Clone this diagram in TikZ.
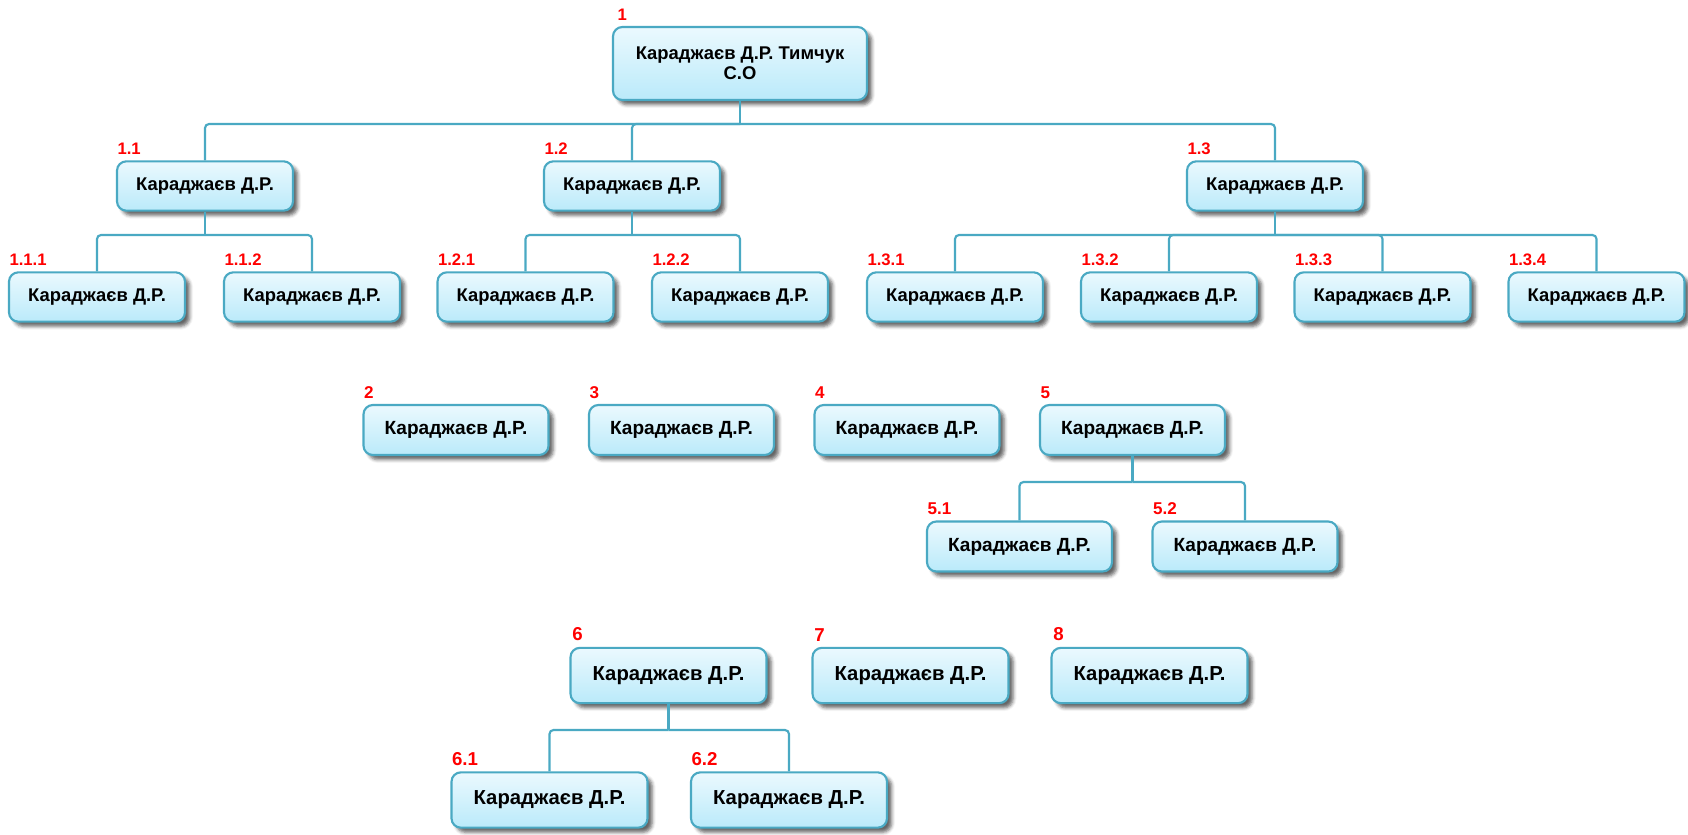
\documentclass[tikz,border=0pt]{standalone}
\usepackage{fontspec}
\setmainfont{Liberation Sans}
\usetikzlibrary{shadows.blur}
\definecolor{bord}{HTML}{4AA9C3}
\definecolor{ftop}{HTML}{EBF9FE}
\definecolor{fbot}{HTML}{BAEAFA}
\definecolor{labred}{HTML}{FF0000}
\tikzset{
  box/.style={draw=bord, line width=1.6pt, rounded corners=7pt, top color=ftop, bottom color=fbot,
    inner sep=0pt, align=center, text=black,
    blur shadow={shadow xshift=3.5pt, shadow yshift=-3.5pt, shadow blur radius=2.5pt, shadow opacity=60}},
  bxA/.style={box, minimum width=132pt, minimum height=37pt, font=\bfseries\fontsize{13.8}{16}\selectfont},
  bxB/.style={box, minimum width=138.75pt, minimum height=37.5pt, font=\bfseries\fontsize{14.3}{16}\selectfont},
  bxC/.style={box, minimum width=147pt, minimum height=41.5pt, font=\bfseries\fontsize{15.2}{17}\selectfont},
  bxR/.style={box, minimum width=190.5pt, minimum height=54.75pt, font=\bfseries\fontsize{13.8}{15.2}\selectfont},
  lab/.style={text=labred, inner sep=0pt, anchor=south west},
  labA/.style={lab, font=\bfseries\fontsize{12.5}{14}\selectfont},
  labB/.style={lab, font=\bfseries\fontsize{12.8}{14}\selectfont},
  labC/.style={lab, font=\bfseries\fontsize{14}{15}\selectfont},
  conn/.style={draw=bord, line width=1.6pt, rounded corners=3pt},
  stem/.style={draw=bord, line width=1.6pt},
}
\newcommand{\nm}{Караджаєв Д.Р.}
\begin{document}
\begin{tikzpicture}[x=0.75pt, y=-0.75pt]
\useasboundingbox (0,0) rectangle (1688,835);
% bars
\coordinate (bR) at (0,124);
\coordinate (bL1) at (0,235);
\coordinate (b5) at (0,482);
\coordinate (b6) at (0,730);
% nodes
\node[bxR] (n1) at (740,63.5) {Караджаєв Д.Р. Тимчук\\С.О};
\node[bxA] (n11) at (205,186) {\nm};
\node[bxA] (n12) at (632,186) {\nm};
\node[bxA] (n13) at (1275,186) {\nm};
\node[bxA] (n111) at (97,297) {\nm};
\node[bxA] (n112) at (312,297) {\nm};
\node[bxA] (n121) at (525.5,297) {\nm};
\node[bxA] (n122) at (740,297) {\nm};
\node[bxA] (n131) at (955,297) {\nm};
\node[bxA] (n132) at (1169,297) {\nm};
\node[bxA] (n133) at (1382.5,297) {\nm};
\node[bxA] (n134) at (1596.5,297) {\nm};
\node[bxB] (n2) at (456,430) {\nm};
\node[bxB] (n3) at (681.5,430) {\nm};
\node[bxB] (n4) at (907,430) {\nm};
\node[bxB] (n5) at (1132.5,430) {\nm};
\node[bxB] (n51) at (1019.5,546.5) {\nm};
\node[bxB] (n52) at (1245,546.5) {\nm};
\node[bxC] (n6) at (668.5,675.5) {\nm};
\node[bxC] (n7) at (910.5,675.5) {\nm};
\node[bxC] (n8) at (1149.5,675.5) {\nm};
\node[bxC] (n61) at (549.5,800) {\nm};
\node[bxC] (n62) at (789,800) {\nm};
% connectors
\draw[stem] (n1.south) -- (n1.south |- bR);
\foreach \c in {n11,n12,n13}
  \draw[conn] (n1.south |- bR) -| (\c.north);
\draw[stem] (n11.south) -- (n11.south |- bL1);
\foreach \c in {n111,n112}
  \draw[conn] (n11.south |- bL1) -| (\c.north);
\draw[stem] (n12.south) -- (n12.south |- bL1);
\foreach \c in {n121,n122}
  \draw[conn] (n12.south |- bL1) -| (\c.north);
\draw[stem] (n13.south) -- (n13.south |- bL1);
\foreach \c in {n131,n132,n133,n134}
  \draw[conn] (n13.south |- bL1) -| (\c.north);
\draw[stem] (n5.south) -- (n5.south |- b5);
\foreach \c in {n51,n52}
  \draw[conn] (n5.south |- b5) -| (\c.north);
\draw[stem] (n6.south) -- (n6.south |- b6);
\foreach \c in {n61,n62}
  \draw[conn] (n6.south |- b6) -| (\c.north);
% labels
\node[labA] (l1) at ([xshift=4pt,yshift=3.5pt]n1.north west) {1};
\node[labA] (l11) at ([xshift=1pt,yshift=4pt]n11.north west) {1.1};
\node[labA] (l12) at ([xshift=1pt,yshift=4pt]n12.north west) {1.2};
\node[labA] (l13) at ([xshift=1pt,yshift=4pt]n13.north west) {1.3};
\node[labA] (l111) at ([xshift=1pt,yshift=4pt]n111.north west) {1.1.1};
\node[labA] (l112) at ([xshift=1pt,yshift=4pt]n112.north west) {1.1.2};
\node[labA] (l121) at ([xshift=1pt,yshift=4pt]n121.north west) {1.2.1};
\node[labA] (l122) at ([xshift=1pt,yshift=4pt]n122.north west) {1.2.2};
\node[labA] (l131) at ([xshift=1pt,yshift=4pt]n131.north west) {1.3.1};
\node[labA] (l132) at ([xshift=1pt,yshift=4pt]n132.north west) {1.3.2};
\node[labA] (l133) at ([xshift=1pt,yshift=4pt]n133.north west) {1.3.3};
\node[labA] (l134) at ([xshift=1pt,yshift=4pt]n134.north west) {1.3.4};
\node[labB] (l2) at ([xshift=1pt,yshift=4pt]n2.north west) {2};
\node[labB] (l3) at ([xshift=1pt,yshift=4pt]n3.north west) {3};
\node[labB] (l4) at ([xshift=1pt,yshift=4pt]n4.north west) {4};
\node[labB] (l5) at ([xshift=1pt,yshift=4pt]n5.north west) {5};
\node[labB] (l51) at ([xshift=1pt,yshift=4pt]n51.north west) {5.1};
\node[labB] (l52) at ([xshift=1pt,yshift=4pt]n52.north west) {5.2};
\node[labC] (l6) at ([xshift=2pt,yshift=4pt]n6.north west) {6};
\node[labC] (l7) at ([xshift=2pt,yshift=4pt]n7.north west) {7};
\node[labC] (l8) at ([xshift=2pt,yshift=4pt]n8.north west) {8};
\node[labC] (l61) at ([xshift=1pt,yshift=4pt]n61.north west) {6.1};
\node[labC] (l62) at ([xshift=1pt,yshift=4pt]n62.north west) {6.2};
\end{tikzpicture}
\end{document}
